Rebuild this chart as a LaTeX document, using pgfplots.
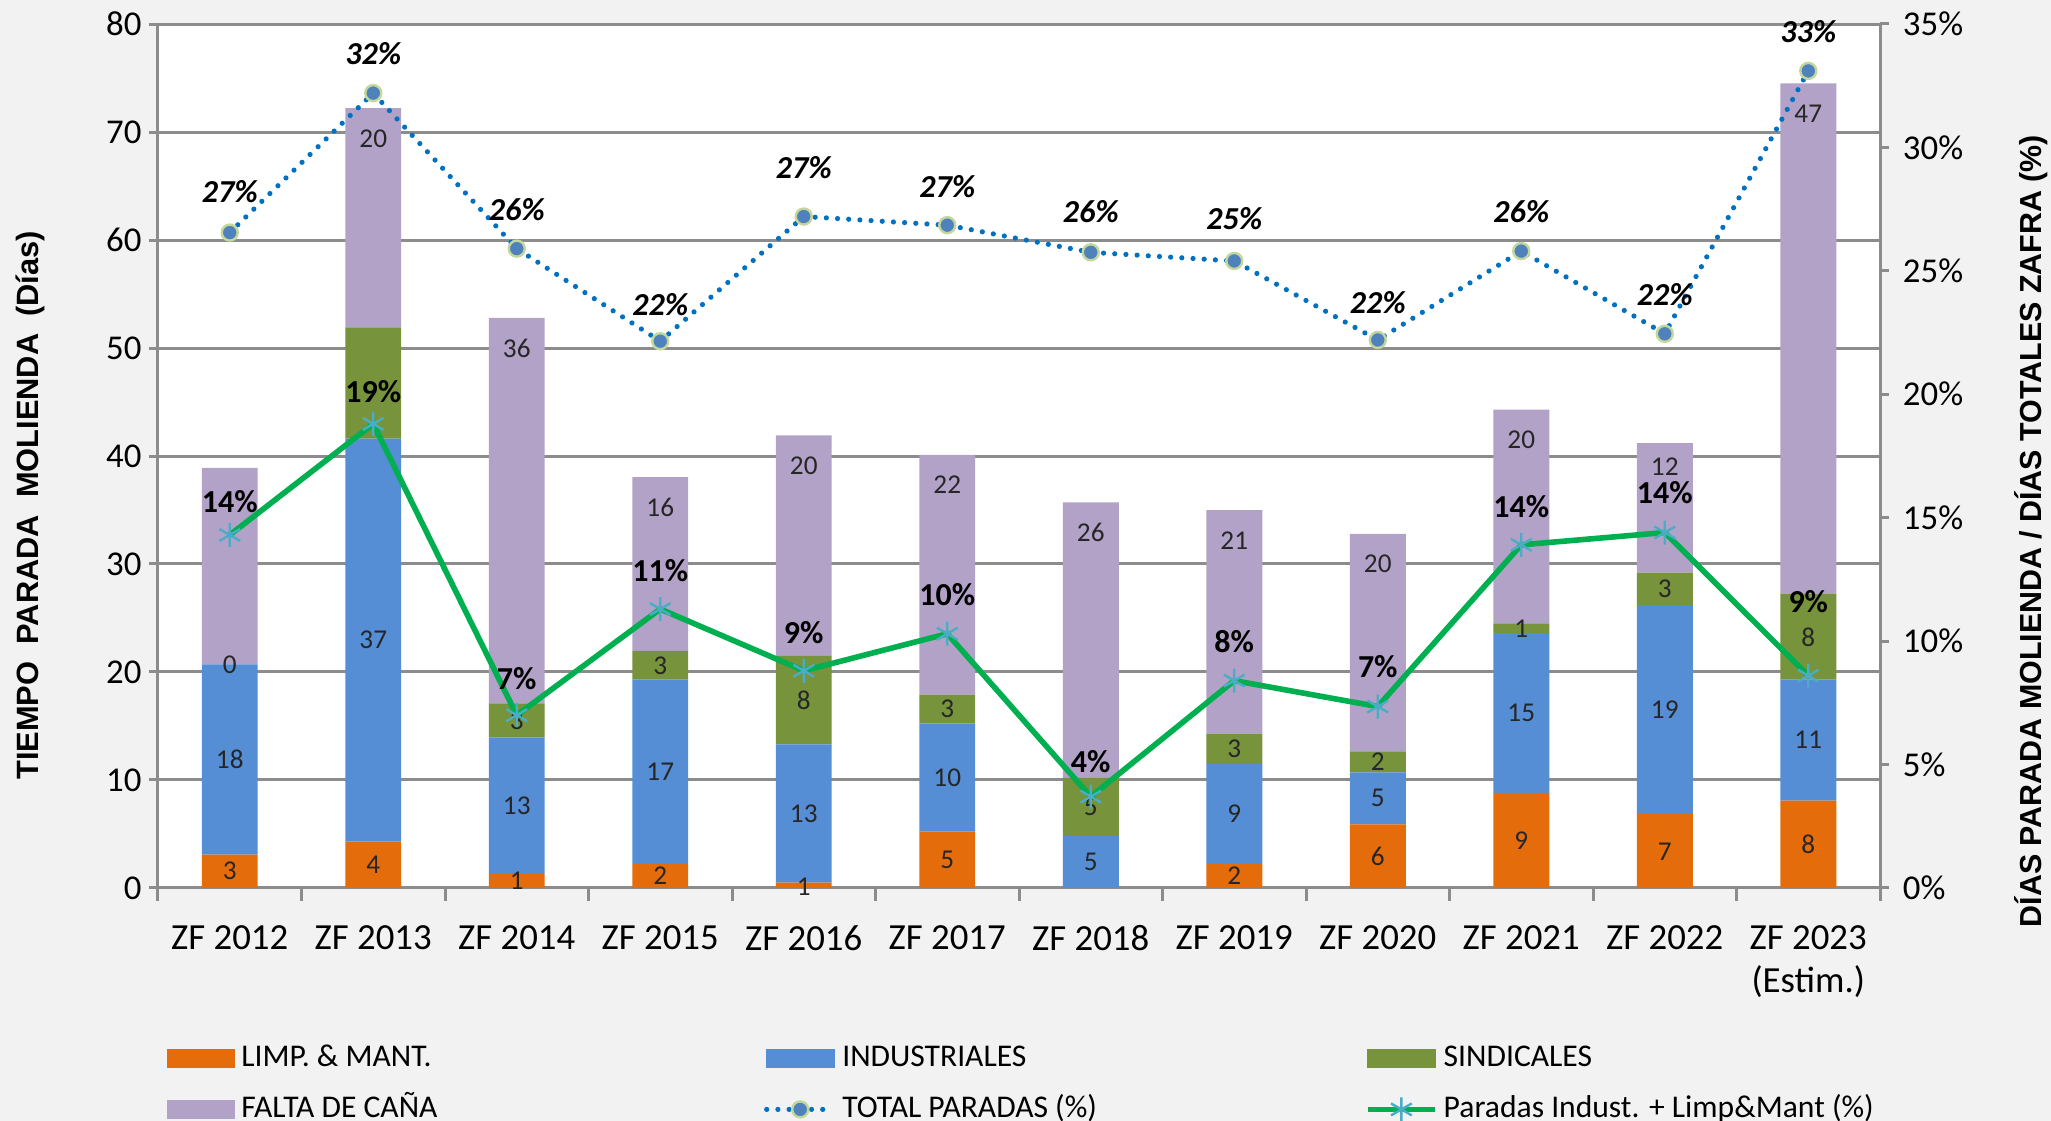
\documentclass[border=0pt]{standalone}
\usepackage{pgfplots}
\pgfplotsset{compat=1.18}
\usepackage{pgfplotstable}
\usepackage{fontspec}
\setmainfont{Carlito}
\newfontfamily\titlefont{Liberation Sans}

\definecolor{bgc}{HTML}{F2F2F2}
\definecolor{cLimp}{HTML}{E46C0A}
\definecolor{cInd}{HTML}{558ED5}
\definecolor{cSind}{HTML}{77933C}
\definecolor{cFalta}{HTML}{B3A2C7}
\definecolor{cTot}{HTML}{0070C0}
\definecolor{cTotM}{HTML}{4F81BD}
\definecolor{cTotE}{HTML}{C3D69B}
\definecolor{cPar}{HTML}{00B050}
\definecolor{cParM}{HTML}{4BACC6}
\definecolor{cGrid}{HTML}{8C8C8C}

\pgfplotstableread{
x limp ind sind falta
0 3.1 17.6 0 18.2
1 4.3 37.3 10.3 20.3
2 1.3 12.65 3.15 35.7
3 2.2 17.1 2.65 16.1
4 0.5 12.8 8.2 20.4
5 5.25 10.0 2.65 22.2
6 0 4.8 5.4 25.5
7 2.2 9.3 2.8 20.7
8 5.9 4.8 1.95 20.15
9 8.8 14.8 0.9 19.8
10 6.85 19.35 3.0 12.0
11 8.1 11.2 7.9 47.3
}\bars

\pgfplotstableread{
x tot totlab toty par parlab pary
0 26.55 27 28.2 14.3 14 15.65
1 32.2 32 33.8 18.8 19 20.1
2 25.9 26 27.5 7.0 7 8.5
3 22.15 22 23.65 11.3 11 12.87
4 27.2 27 29.2 8.8 9 10.34
5 26.85 27 28.4 10.3 10 11.9
6 25.75 26 27.4 3.7 4 5.1
7 25.4 25 27.1 8.4 8 10.0
8 22.2 22 23.7 7.35 7 8.95
9 25.8 26 27.4 13.9 14 15.46
10 22.45 22 24.05 14.4 14 16.0
11 33.1 33 34.7 8.6 9 11.6
}\pct

\pgfplotstableread{
x y lab
0 1.55 3
0 11.9 18
0 20.7 0
1 2.15 4
1 22.95 37
1 69.4 20
2 0.65 1
2 7.6 13
2 15.5 3
2 50.0 36
3 1.1 2
3 10.75 17
3 20.6 3
3 35.25 16
4 0.1 1
4 6.9 13
4 17.4 8
4 39.1 20
5 2.6 5
5 10.25 10
5 16.6 3
5 37.3 22
6 2.4 5
6 7.5 5
6 32.9 26
7 1.1 2
7 6.85 9
7 12.9 3
7 32.2 21
8 2.95 6
8 8.3 5
8 11.7 2
8 30.0 20
9 4.4 9
9 16.2 15
9 24.05 1
9 41.5 20
10 3.4 7
10 16.5 19
10 27.7 3
10 39.0 12
11 4.05 8
11 13.7 11
11 23.25 8
11 71.7 47
}\blabs

\pgfplotsset{
  base/.style={
    at={(39.5pt,58.25pt)}, anchor=south west,
    scale only axis, width=430.5pt, height=216pt,
    xmin=-0.5, xmax=11.5,
    /pgf/number format/assume math mode=true,
    tick label style={font=\fontsize{8.7}{10}\selectfont, text=black},
    tick align=outside,
    every tick/.style={cGrid, line width=0.75pt},
    axis line style={cGrid, line width=0.75pt},
  },
  lentry/.style={legend image code/.code={\fill[#1] (0pt,-2.2pt) rectangle (16.75pt,2.2pt);}},
  lineleg/.style={legend image code/.code={\draw[mark repeat=2,mark phase=2,##1] plot coordinates {(0pt,0pt) (8.375pt,0pt) (16.75pt,0pt)};}},
}
\newcommand{\legtxt}[1]{\makebox[130.7pt][l]{#1}}

\begin{document}
\begin{tikzpicture}
\useasboundingbox (0,0) rectangle (512.75pt,280.25pt);
\fill[bgc] (0,0) rectangle (512.75pt,280.25pt);

% bars
\begin{axis}[base,
  ymin=0, ymax=80, ytick={0,10,...,80},
  axis background/.style={fill=white},
  ybar stacked, bar width=0.39,
  axis x line*=bottom, axis y line*=left,
  ymajorgrids, major grid style={cGrid, line width=0.75pt},
  xtick={0,...,11},
  xticklabels={ZF 2012,ZF 2013,ZF 2014,ZF 2015,ZF 2016,ZF 2017,ZF 2018,ZF 2019,ZF 2020,ZF 2021,ZF 2022,{ZF 2023\\(Estim.)}},
  xticklabel style={align=center, font=\fontsize{9.2}{10.75}\selectfont, yshift=-3.7pt},
  yticklabel style={xshift=1.6pt},
  minor xtick={-0.5,0.5,...,11.5},
  major x tick style={draw=none},
  minor tick length=3.3pt, major tick length=2.2pt,
  ylabel={TIEMPO\ \ PARADA\ \ MOLIENDA\ \ (Días)},
  ylabel style={font=\titlefont\bfseries\fontsize{7.7}{9}\selectfont, at={(axis description cs:-0.0743,0.443)}, anchor=center},
]
\addplot[fill=cLimp, draw=none] table[x=x,y=limp]{\bars};
\addplot[fill=cInd, draw=none] table[x=x,y=ind]{\bars};
\addplot[fill=cSind, draw=none] table[x=x,y=sind]{\bars};
\addplot[fill=cFalta, draw=none] table[x=x,y=falta]{\bars};
\end{axis}

% bar value labels
\begin{axis}[base, ymin=0, ymax=80, hide axis]
\addplot[draw=none, mark=none, nodes near coords, point meta=explicit symbolic,
  nodes near coords style={anchor=center, font=\fontsize{6.8}{8}\selectfont, text=black!85}]
  table[x=x,y=y,meta=lab]{\blabs};
\end{axis}

% lines
\begin{axis}[base,
  ymin=0, ymax=35, ytick={0,5,...,35},
  axis y line*=right, axis x line=none,
  major tick length=2.2pt,
  yticklabel={\pgfmathprintnumber{\tick}\%},
  ylabel={DÍAS PARADA MOLIENDA / DÍAS TOTALES ZAFRA (\%)},
  ylabel style={font=\titlefont\bfseries\fontsize{7.6}{9}\selectfont, at={(axis description cs:1.0877,0.413)}, anchor=center},
  legend columns=3,
  legend cell align=left,
  legend style={at={(axis description cs:0.0046,-0.1778)}, anchor=north west,
    draw=none, fill=none, inner sep=0pt,
    font=\fontsize{7.9}{9.6}\selectfont,
    nodes={inner sep=0pt, text height=6pt, text depth=2pt},
    row sep=4.75pt,
    /tikz/every odd column/.append style={column sep=1.5pt}},
]
\addlegendimage{lentry=cLimp}
\addlegendentry{\legtxt{LIMP. \& MANT.}}
\addlegendimage{lentry=cInd}
\addlegendentry{\legtxt{INDUSTRIALES}}
\addlegendimage{lentry=cSind}
\addlegendentry{\legtxt{SINDICALES}}
\addlegendimage{lentry=cFalta}
\addlegendentry{\legtxt{FALTA DE CAÑA}}

\addplot[color=cTot, line width=1.3pt, dash pattern=on 0pt off 2.8pt, line cap=round,
  mark=*, mark size=2pt, mark options={solid, fill=cTotM, draw=cTotE, line width=0.6pt},
  lineleg]
  table[x=x,y=tot]{\pct};
\addlegendentry{\legtxt{TOTAL PARADAS (\%)}}
\addplot[color=cPar, line width=1.4pt, mark=asterisk, mark size=3pt,
  mark options={cParM, line width=0.6pt}, lineleg]
  table[x=x,y=par]{\pct};
\addlegendentry{Paradas Indust. + Limp\&Mant (\%)}

\addplot[forget plot, draw=none, mark=none, nodes near coords={\pgfplotspointmeta\%}, point meta=explicit symbolic,
  nodes near coords style={anchor=center, font=\bfseries\itshape\fontsize{8}{9}\selectfont, text=black}]
  table[x=x,y=toty,meta=totlab]{\pct};
\addplot[forget plot, draw=none, mark=none, nodes near coords={\pgfplotspointmeta\%}, point meta=explicit symbolic,
  nodes near coords style={anchor=center, font=\bfseries\fontsize{8}{9}\selectfont, text=black}]
  table[x=x,y=pary,meta=parlab]{\pct};
\end{axis}
\end{tikzpicture}
\end{document}
